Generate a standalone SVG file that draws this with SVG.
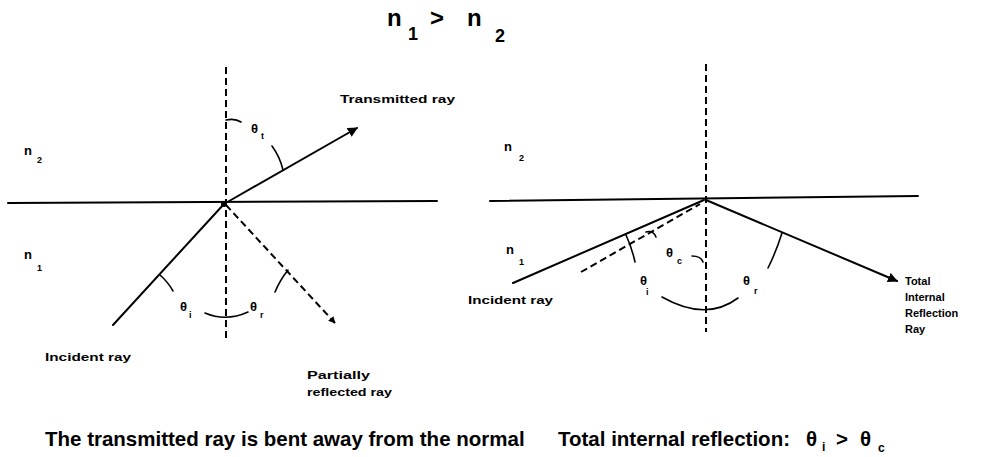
<svg xmlns="http://www.w3.org/2000/svg" width="988" height="457" viewBox="0 0 988 457">
<defs>
<style>
.ln{stroke:#000;stroke-width:2;fill:none;stroke-linecap:round}
.ds{stroke:#000;stroke-width:2;fill:none;stroke-dasharray:7 4}
.arc{stroke:#000;stroke-width:1.6;fill:none;stroke-linecap:round}
.lb{font-family:"Liberation Sans",Arial,sans-serif;font-weight:bold;font-size:11px;fill:#000}
.sym{font-family:"Liberation Sans",Arial,sans-serif;font-weight:bold;font-size:13px;fill:#000}
.sub{font-family:"Liberation Sans",Arial,sans-serif;font-weight:bold;font-size:9px;fill:#000}
.big{font-family:"Liberation Sans",Arial,sans-serif;font-weight:bold;font-size:20.5px;fill:#000}
.ttl{font-family:"Liberation Sans",Arial,sans-serif;font-weight:bold;font-size:24px;fill:#000}
</style>
<marker id="ah" viewBox="0 0 10 10" refX="9" refY="5" markerWidth="5" markerHeight="5" orient="auto" markerUnits="strokeWidth">
<path d="M0,0 L10,5 L0,10 z" fill="#000"/>
</marker>
<marker id="ahs" viewBox="0 0 10 10" refX="9" refY="5" markerWidth="3.5" markerHeight="3.5" orient="auto" markerUnits="strokeWidth">
<path d="M0,0 L10,5 L0,10 z" fill="#000"/>
</marker>
</defs>

<g id="title">
<text class="ttl" x="387" y="26">n</text>
<text class="ttl" x="408" y="40" style="font-size:18px">1</text>
<text class="ttl" x="430" y="26">&gt;</text>
<text class="ttl" x="467" y="26">n</text>
<text class="ttl" x="495" y="42" style="font-size:18px">2</text>
</g>

<g id="left-diagram">
<g id="left-media">
<line class="ln" x1="8" y1="203" x2="437" y2="201"/>
<line class="ds" x1="226" y1="67" x2="226" y2="338"/>
<circle cx="224" cy="204" r="3" fill="#000"/>
</g>
<g id="left-rays">
<line class="ln" x1="113" y1="325" x2="224" y2="204"/>
<line class="ln" x1="224" y1="204" x2="357" y2="128" marker-end="url(#ah)"/>
<line class="ds" x1="226" y1="205" x2="335" y2="323" marker-end="url(#ahs)"/>
</g>
<g id="left-angles">
<path class="arc" d="M226,120 Q235,118 241,122"/>
<path class="arc" d="M272,146 Q280,157 283,170"/>
<path class="arc" d="M160,275 Q168,282 173,291"/>
<path class="arc" d="M288,270 Q280,280 275,292"/>
<path class="arc" d="M205,313 Q226,322 248,312"/>
<text class="sym" x="251" y="133">θ</text><text class="sub" x="261" y="139">t</text>
<text class="sym" x="180" y="311">θ</text><text class="sub" x="189" y="318">i</text>
<text class="sym" x="250" y="311">θ</text><text class="sub" x="260" y="318">r</text>
</g>
<g id="left-labels">
<text class="sym" x="24" y="155">n</text><text class="sub" x="37" y="163">2</text>
<text class="sym" x="24" y="259">n</text><text class="sub" x="37" y="271">1</text>
<text class="lb" x="340" y="103" textLength="115" lengthAdjust="spacingAndGlyphs">Transmitted ray</text>
<text class="lb" x="45" y="361" textLength="86" lengthAdjust="spacingAndGlyphs">Incident ray</text>
<text class="lb" x="307" y="379" textLength="63" lengthAdjust="spacingAndGlyphs">Partially</text>
<text class="lb" x="307" y="396" textLength="85" lengthAdjust="spacingAndGlyphs">reflected ray</text>
<text class="big" x="45" y="446">The transmitted ray is bent away from the normal</text>
</g>
</g>

<g id="right-diagram">
<g id="right-media">
<line class="ln" x1="490" y1="201" x2="918" y2="196"/>
<line class="ds" x1="706" y1="64" x2="706" y2="332"/>
</g>
<g id="right-rays">
<line class="ln" x1="513" y1="283" x2="704" y2="200"/>
<line class="ds" x1="581" y1="272" x2="700" y2="204"/>
<line class="ln" x1="706" y1="200" x2="897" y2="281" marker-end="url(#ah)"/>
</g>
<g id="right-angles">
<path class="arc" d="M646,232 Q653,230 656,237"/>
<path class="arc" d="M692,256 Q701,256 703,262"/>
<path class="arc" d="M626,235 Q632,248 635,262"/>
<path class="arc" d="M662,297 Q706,322 738,298"/>
<path class="arc" d="M782,233 Q776,252 768,268"/>
<text class="sym" x="666" y="257">θ</text><text class="sub" x="677" y="264">c</text>
<text class="sym" x="640" y="285">θ</text><text class="sub" x="646" y="295">i</text>
<text class="sym" x="743" y="285">θ</text><text class="sub" x="754" y="294">r</text>
</g>
<g id="right-labels">
<text class="sym" x="504" y="151">n</text><text class="sub" x="519" y="161">2</text>
<text class="sym" x="506" y="254">n</text><text class="sub" x="519" y="265">1</text>
<text class="lb" x="468" y="304" textLength="85" lengthAdjust="spacingAndGlyphs">Incident ray</text>
<text class="lb" x="905" y="285">Total</text>
<text class="lb" x="905" y="301">Internal</text>
<text class="lb" x="905" y="317">Reflection</text>
<text class="lb" x="905" y="333">Ray</text>
<text class="big" x="558" y="446">Total internal reflection:</text>
<text class="big" x="806" y="446">θ</text>
<text class="sub" x="822" y="451" style="font-size:12px">i</text>
<text class="big" x="836" y="446">&gt;</text>
<text class="big" x="860" y="446">θ</text>
<text class="sub" x="878" y="452" style="font-size:12px">c</text>
</g>
</g>
</svg>
